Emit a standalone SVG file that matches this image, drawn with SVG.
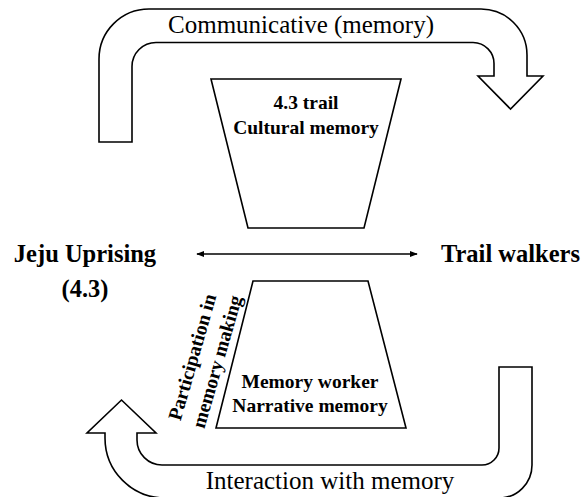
<svg xmlns="http://www.w3.org/2000/svg" width="584" height="497" viewBox="0 0 584 497">
  <defs>
    <style>
      .shape { fill: #ffffff; stroke: #000000; stroke-width: 1.6; stroke-linejoin: miter; }
      .line { fill: none; stroke: #000000; stroke-width: 1.6; }
      .node { font-family: "Liberation Serif", "Times New Roman", serif; font-weight: bold; font-size: 19.5px; fill: #000000; text-anchor: middle; }
      .side { font-family: "Liberation Serif", "Times New Roman", serif; font-weight: bold; font-size: 24.5px; fill: #000000; text-anchor: middle; }
      .flow { font-family: "Liberation Serif", "Times New Roman", serif; font-size: 25px; fill: #000000; text-anchor: middle; }
    </style>
    <marker id="head" viewBox="0 0 10 10" refX="9" refY="5" markerWidth="8" markerHeight="8" markerUnits="userSpaceOnUse" orient="auto-start-reverse">
      <path d="M0,1 L10,5 L0,9 Z" fill="#000000"/>
    </marker>
  </defs>
  <rect width="584" height="497" fill="#ffffff"/>

  <!-- curved block arrows and the two-way link -->
  <g id="connectors">
    <g id="communicative-flow">
      <path class="shape" d="M99,142 L99,59 A50,50 0 0 1 149,9 L481,9 A46,46 0 0 1 527,55 L527,76 L543,76 L510.5,109 L478,76 L494,76 L494,64 A21,21 0 0 0 473,42.5 L156,42.5 A24,24 0 0 0 132,66.5 L132,142 Z"/>
      <text class="flow" x="301" y="33">Communicative (memory)</text>
    </g>
    <g id="interaction-flow">
      <path class="shape" d="M105,433 L105,438 A60,60 0 0 0 165,498 L499,498 A33,33 0 0 0 532,465 L532,367 L499,367 L499,448 A17,17 0 0 1 482,465 L162,465 A25,25 0 0 1 137,440 L137,433 L156,433 L121.5,400 L87,433 Z"/>
      <text class="flow" x="330" y="489">Interaction with memory</text>
    </g>
    <line id="link" class="line" x1="197" y1="254" x2="417" y2="254" marker-start="url(#head)" marker-end="url(#head)"/>
  </g>

  <g id="cultural-memory">
    <polygon class="shape" points="211,79 401,79 364,228 248,228"/>
    <text class="node" x="306" y="109">4.3 trail</text>
    <text class="node" x="306" y="134">Cultural memory</text>
  </g>

  <g id="narrative-memory">
    <polygon class="shape" points="253,281 368,281 406,428 216,428"/>
    <text class="node" x="310" y="388">Memory worker</text>
    <text class="node" x="310" y="412">Narrative memory</text>
  </g>

  <g id="participation-label">
    <text class="node" transform="translate(204.5,358) rotate(-74)">
      <tspan x="0" y="-5.5">Participation in</tspan>
      <tspan x="0" y="19.5">memory making</tspan>
    </text>
  </g>

  <g id="jeju-uprising">
    <text class="side" x="85" y="262">Jeju Uprising</text>
    <text class="side" x="85" y="297">(4.3)</text>
  </g>

  <g id="trail-walkers">
    <text class="side" x="510.5" y="262">Trail walkers</text>
  </g>
</svg>
